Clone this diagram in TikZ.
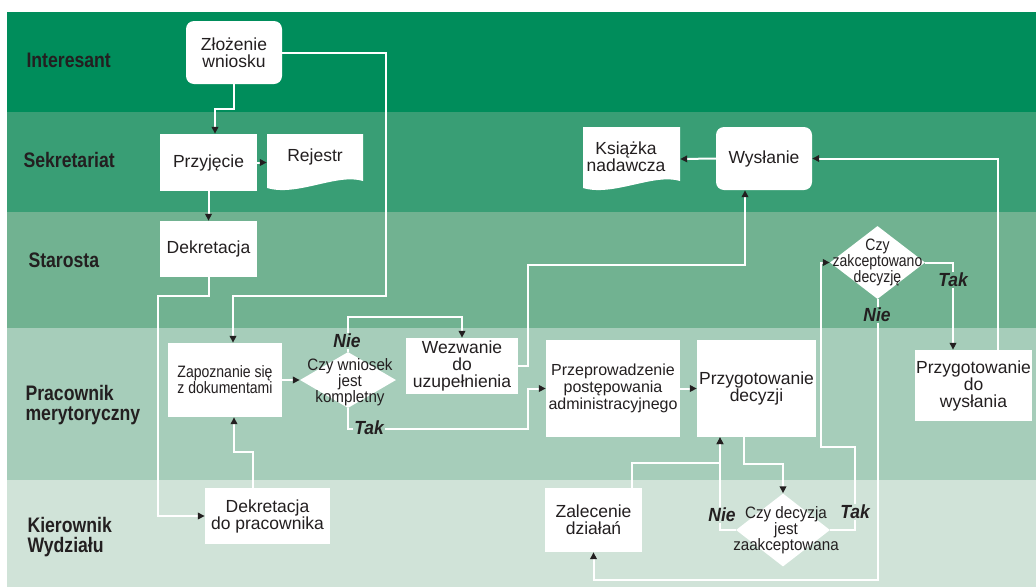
\documentclass[tikz,border=0pt]{standalone}
\usepackage{fontspec}
\setmainfont{Liberation Sans}
\newfontfamily\narrowfont[FakeStretch=0.85]{Liberation Sans}
\newfontfamily\midfont[FakeStretch=0.92]{Liberation Sans}
\newfontfamily\lanefont[FakeStretch=0.84]{Liberation Sans}
\newfontfamily\tagfont[FakeStretch=0.92]{Liberation Sans}
\usetikzlibrary{shapes.geometric,arrows.meta}
\definecolor{ink}{RGB}{35,31,32}
\definecolor{laneA}{RGB}{0,141,91}
\definecolor{laneB}{RGB}{57,158,117}
\definecolor{laneC}{RGB}{113,178,145}
\definecolor{laneD}{RGB}{166,205,186}
\definecolor{laneE}{RGB}{208,227,216}
\begin{document}
\begin{tikzpicture}[x=1pt,y=-1pt,
    box/.style={fill=white,inner sep=0pt,align=center,text=ink,font=\fontsize{17.5}{17}\selectfont},
    rbox/.style={box,rounded corners=8pt},
    dec/.style={diamond,fill=white,inner sep=0pt},
    dectext/.style={align=center,text=ink,inner sep=0pt,font=\midfont\fontsize{16.5}{16}\selectfont},
    doctext/.style={align=center,text=ink,inner sep=0pt,font=\fontsize{17.5}{17}\selectfont},
    doc/.style={inner sep=0pt,path picture={\fill[white] (path picture bounding box.north west) -- (path picture bounding box.north east) -- ([yshift=10pt]path picture bounding box.south east) .. controls ([xshift=-26pt,yshift=18pt]path picture bounding box.south east) and ([xshift=30pt,yshift=-6pt]path picture bounding box.south west) .. ([yshift=3pt]path picture bounding box.south west) -- cycle;}},
    flow/.style={draw=white,line width=2pt,-{Triangle[length=7pt,width=6.5pt,color=ink]}},
    tag/.style={inner sep=1pt,text=ink,font=\tagfont\bfseries\itshape\fontsize{19}{19}\selectfont},
    lane/.style={anchor=west,align=left,text=ink,font=\lanefont\bfseries\fontsize{21}{19.5}\selectfont}]
  \useasboundingbox (0,0) rectangle (1036,587);
  \fill[white] (0,0) rectangle (1036,587);
  % swimlanes
  \fill[laneA] (7,12) rectangle (1036,112);
  \fill[laneB] (7,112) rectangle (1036,212);
  \fill[laneC] (7,212) rectangle (1036,328);
  \fill[laneD] (7,328) rectangle (1036,480);
  \fill[laneE] (7,480) rectangle (1036,587);
  \node[lane] (interesant) at (23,60) {Interesant};
  \node[lane] (sekretariat) at (20,160) {Sekretariat};
  \node[lane] (starosta) at (25,260) {Starosta};
  \node[lane] (pracownik) at (22,405) {Pracownik\\merytoryczny};
  \node[lane] (kierownik) at (24,537) {Kierownik\\Wydziału};
  % steps
  \node[rbox,minimum width=96pt,minimum height=63pt] (zloz) at (234,52.5) {Złożenie\\wniosku};
  \node[box,minimum width=97pt,minimum height=57pt] (przyj) at (208.5,162.5) {Przyjęcie};
  \node[doc,minimum width=96pt,minimum height=57pt,label={[doctext,yshift=6pt]center:Rejestr}] (rejestr) at (315,162.5) {};
  \node[box,minimum width=97pt,minimum height=56pt] (dekr1) at (208.5,249) {Dekretacja};
  \node[box,font=\narrowfont\fontsize{16.5}{16}\selectfont,minimum width=114pt,minimum height=74pt] (zapoz) at (225,380) {Zapoznanie się\\z dokumentami};
  \node[dec,minimum width=96pt,minimum height=56pt,label={[dectext,xshift=2pt,yshift=-2pt]center:Czy wniosek\\jest\\kompletny}] (czyk) at (348,380) {};
  \node[box,minimum width=112pt,minimum height=56pt] (wezw) at (462,366) {Wezwanie\\do\\uzupełnienia};
  \node[box,minimum width=125pt,minimum height=56pt] (dekr2) at (267.5,516) {Dekretacja\\do pracownika};
  \node[box,font=\fontsize{16}{17}\selectfont,minimum width=134pt,minimum height=97pt] (przepr) at (613,388.5) {Przeprowadzenie\\postępowania\\administracyjnego};
  \node[box,minimum width=119pt,minimum height=97pt] (przygd) at (756.5,388.5) {Przygotowanie\\decyzji};
  \node[box,minimum width=97pt,minimum height=64pt] (zalec) at (593.5,520) {Zalecenie\\działań};
  \node[dec,minimum width=94pt,minimum height=73pt,label={[dectext,xshift=3pt]center:Czy decyzja\\jest\\zaakceptowana}] (czyd) at (783,530) {};
  \node[dec,minimum width=95pt,minimum height=73pt,label={[dectext,font=\narrowfont\fontsize{16.5}{16}\selectfont]center:Czy\\zakceptowano\\decyzję}] (czyz) at (877.5,262.5) {};
  \node[box,minimum width=117pt,minimum height=71pt] (przygw) at (973.5,385.5) {Przygotowanie\\do\\wysłania};
  \node[rbox,minimum width=96pt,minimum height=63pt] (wysl) at (764,158.5) {Wysłanie};
  \node[doc,minimum width=97pt,minimum height=64pt,label={[doctext,xshift=-5.5pt,yshift=2.5pt]center:Książka\\nadawcza}] (ksiaz) at (631.5,159) {};
  % connectors
  \draw[flow] (zloz.south) -- ++(0,24.5) -| ([xshift=6.5pt]przyj.north);
  \draw[flow] (przyj.east) -- (rejestr.west);
  \draw[flow] (przyj.south) -- (dekr1.north);
  \draw[flow] (zloz.east) -- ++(104,0) -- ++(0,243.5) -| ([xshift=8pt]zapoz.north);
  \draw[flow] (dekr1.south) -- ++(0,19) -- ++(-50.5,0) |- (dekr2.west);
  \draw[flow] ([xshift=-14.5pt]dekr2.north) -- ++(0,-36) -| ([xshift=9pt]zapoz.south);
  \draw[flow] (zapoz.east) -- (czyk.west);
  \draw[flow] (czyk.north) -- ++(0,-35) -| (wezw.north);
  \draw[flow] (czyk.south) -- ++(0,21) -- ++(180,0) |- (przepr.west);
  \draw[flow] (wezw.east) -- ++(10,0) -- ++(0,-101) -| ([xshift=-19pt]wysl.south);
  \draw[flow] (przepr.east) -- (przygd.west);
  \draw[flow] ([xshift=-12.5pt]przygd.south) -- ++(0,27) -| (czyd.north);
  \draw[flow] (czyd.west) -| ([xshift=-36.5pt]przygd.south);
  \draw[flow] ([xshift=38.5pt]zalec.north) -- ++(0,-25) -| ([xshift=-36.5pt]przygd.south);
  \draw[flow] (czyd.east) -- ++(25,0) -- ++(0,-83) -- ++(-34,0) |- (czyz.west);
  \draw[flow] (czyz.east) -| ([xshift=-20.5pt]przygw.north);
  \draw[flow] (czyz.south) -- ++(0,281) -| (zalec.south);
  \draw[flow] ([xshift=24pt]przygw.north) |- (wysl.east);
  \draw[flow] (wysl.west) -- (ksiaz.east);
  % answers
  \node[tag,fill=laneD] (nie1) at (347,341) {Nie};
  \node[tag,fill=laneD] (tak1) at (369,428) {Tak};
  \node[tag,fill=laneE] (nie2) at (722,515) {Nie};
  \node[tag,fill=laneE] (tak2) at (855,512) {Tak};
  \node[tag,fill=laneC] (tak3) at (953,280) {Tak};
  \node[tag,fill=laneC] (nie3) at (877,315) {Nie};
\end{tikzpicture}
\end{document}
